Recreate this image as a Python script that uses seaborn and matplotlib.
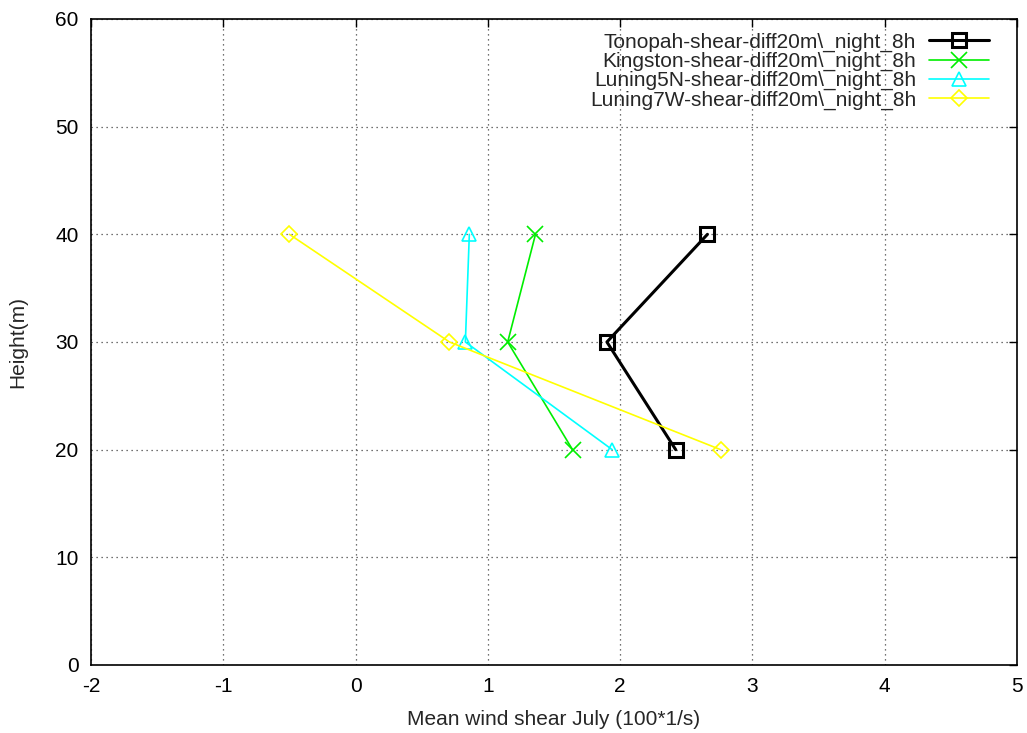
import matplotlib
matplotlib.use("Agg")
import matplotlib.pyplot as plt
import seaborn as sns
import pandas as pd

heights = [20, 30, 40]
tonopah = [2.42, 1.90, 2.66]
kingston = [1.64, 1.15, 1.36]
luning5n = [1.94, 0.83, 0.86]
luning7w = [2.76, 0.71, -0.50]
series_names = [
    "Tonopah-shear-diff20m\\_night_8h",
    "Kingston-shear-diff20m\\_night_8h",
    "Luning5N-shear-diff20m\\_night_8h",
    "Luning7W-shear-diff20m\\_night_8h",
]
x_ticks = [-2, -1, 0, 1, 2, 3, 4, 5]
y_ticks = [0, 10, 20, 30, 40, 50, 60]

sns.set_style("white")
plt.rcParams['font.family'] = ['Liberation Sans', 'DejaVu Sans']

fig = plt.figure(figsize=(10.27, 7.33), dpi=100)
ax = fig.add_axes([91/1027, 1-665/733, (1017-91)/1027, (665-19)/733])

styles = [
    dict(color="black", marker="s", lw=2.2, ms=10, mew=2.2),
    dict(color="#00ee00", marker="x", lw=1.2, ms=11, mew=1.2),
    dict(color="#00ffff", marker="^", lw=1.2, ms=10, mew=1.2),
    dict(color="#ffff00", marker="D", lw=1.2, ms=8, mew=1.2),
]
for name, vals, st in zip(series_names, [tonopah, kingston, luning5n, luning7w], styles):
    df = pd.DataFrame({"x": vals, "y": heights})
    sns.lineplot(data=df, x="x", y="y", sort=False, ax=ax, label=name,
                 color=st["color"], marker=st["marker"], linewidth=st["lw"],
                 markersize=st["ms"], markeredgewidth=st["mew"],
                 markerfacecolor="none", markeredgecolor=st["color"])

ax.set_xlim(-2, 5)
ax.set_ylim(0, 60)
ax.set_xticks(x_ticks)
ax.set_yticks(y_ticks)
ax.set_xticklabels([str(v) for v in x_ticks])
ax.set_yticklabels([str(v) for v in y_ticks])
ax.tick_params(direction="in", length=6, width=1, top=True, right=True,
               labelsize=15, pad=9, colors="black")
ax.grid(True, linestyle=(0, (1, 3)), color="#444444", linewidth=0.9)
for s in ax.spines.values():
    s.set_color("black")
    s.set_linewidth(1.2)
ax.set_xlabel("Mean wind shear July (100*1/s)", fontsize=15, labelpad=10)
ax.set_ylabel("Height(m)", fontsize=15, labelpad=20)

leg = ax.legend(loc="upper right", frameon=False, markerfirst=False, fontsize=15,
                handlelength=2.9, handletextpad=0.6, labelspacing=0.0,
                borderaxespad=0.5, bbox_to_anchor=(0.99, 1.008))
for t in leg.get_texts():
    t.set_ha("right")

fig.savefig("out.png", dpi=100)
